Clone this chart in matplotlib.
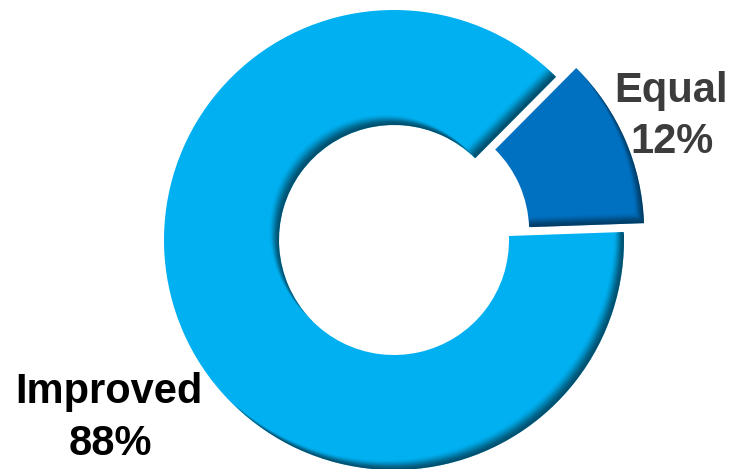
import numpy as np
import matplotlib
matplotlib.use("Agg")
import matplotlib.pyplot as plt

# Survey result shares
labels = ["Improved", "Equal"]
values = [88, 12]
pct_text = ["88%", "12%"]
colors = ["#00B0F0", "#0070C0"]
explode_px = [0, 22]

W, H = 732, 469
PX = 230.0                      # pixels per data unit (outer radius = 1)
cx_px, cy_px = 394, 240         # donut centre in pixel space (y down)

fig = plt.figure(figsize=(W / 100, H / 100), dpi=100)
ax = fig.add_axes([0, 0, 1, 1])

wedges, _ = ax.pie(values, colors=colors, startangle=45.2, counterclock=True,
                   radius=1.0, explode=[e / PX for e in explode_px],
                   wedgeprops=dict(width=0.5, linewidth=0))

x0, x1 = -cx_px / PX, (W - cx_px) / PX
y0, y1 = -(H - cy_px) / PX, cy_px / PX
ax.set_xlim(x0, x1)
ax.set_ylim(y0, y1)
ax.set_aspect("auto")
ax.axis("off")

# Soft inner bevel: darken edges that face down-right
xs = np.linspace(x0, x1, W * 2)
ys = np.linspace(y1, y0, H * 2)
gx, gy = np.meshgrid(xs, ys)
v = np.array([np.cos(np.radians(-45)), np.sin(np.radians(-45))])
T = 15.0 / PX


def inside(w, px, py):
    cxw, cyw = w.center
    dx, dy = px - cxw, py - cyw
    r = np.hypot(dx, dy)
    ang = np.degrees(np.arctan2(dy, dx))
    a1, a2 = w.theta1, w.theta2
    rel = (ang - a1) % 360.0
    span = (a2 - a1)
    return (r >= w.r - w.width) & (r <= w.r) & (rel <= span)


for w, dark in zip(wedges, [0.62, 0.55]):
    steps = np.linspace(0, T, 40)
    t_exit = np.full(gx.shape, T)
    found = np.zeros(gx.shape, bool)
    for t in steps:
        out = ~inside(w, gx + t * v[0], gy + t * v[1])
        new = out & ~found
        t_exit[new] = t
        found |= out
    # pixels just outside: only keep shade on down-right facing borders
    out0 = ~inside(w, gx, gy)
    back = inside(w, gx - 3 / PX * v[0], gy - 3 / PX * v[1])
    t_exit[out0 & ~back] = T
    s = np.clip(t_exit / T, 0, 1)
    a = dark * (1 - (3 * s ** 2 - 2 * s ** 3))
    rgba = np.zeros(gx.shape + (4,))
    rgba[..., 0] = 0.0
    rgba[..., 1] = 0.08
    rgba[..., 2] = 0.12
    rgba[..., 3] = a
    im = ax.imshow(rgba, extent=(x0, x1, y0, y1), origin="upper",
                   interpolation="bilinear", zorder=3, aspect="auto")
    im.set_clip_path(w)

ax.set_xlim(x0, x1)
ax.set_ylim(y0, y1)


def to_data(xp, yp):
    return (xp - cx_px) / PX, (cy_px - yp) / PX


font = dict(family=["Liberation Sans", "DejaVu Sans"], weight="bold", size=30)

# Equal label (dark grey)
for txt, (xp, yp) in zip([labels[1], pct_text[1]], [(671, 102), (672, 153)]):
    ax.text(*to_data(xp, yp), txt, ha="center", va="baseline",
            color="#3c3c3c", zorder=5, **font)

# Improved label (black)
for txt, (xp, yp) in zip([labels[0], pct_text[0]], [(109, 403), (110, 455)]):
    ax.text(*to_data(xp, yp), txt, ha="center", va="baseline",
            color="black", zorder=5, **font)

fig.savefig("out.png", dpi=100)
